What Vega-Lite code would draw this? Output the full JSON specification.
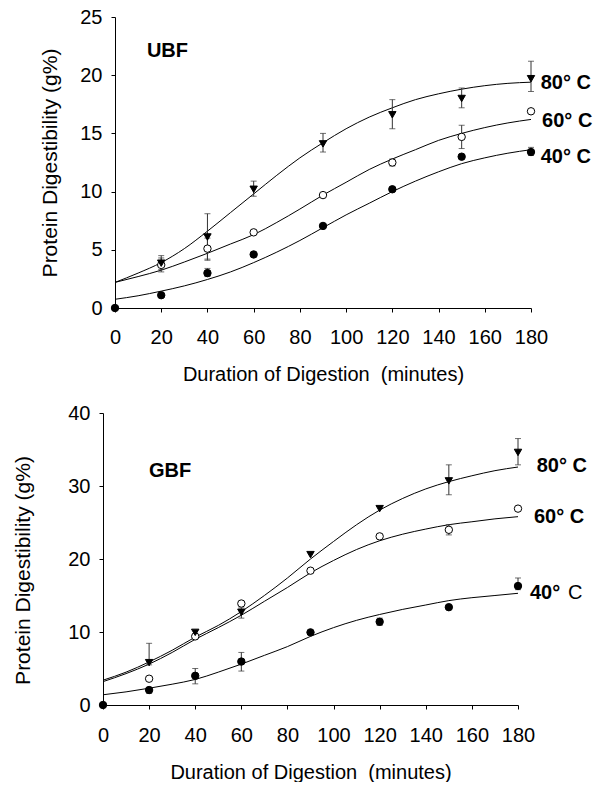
{
  "$schema": "https://vega.github.io/schema/vega-lite/v6.json",
  "padding": {"left": 12, "top": 7, "right": 0, "bottom": 0},
  "config": {
    "view": {"stroke": null},
    "font": "Liberation Sans",
    "axis": {"domainColor": "black", "tickColor": "black", "labelColor": "black", "titleColor": "black", "grid": false, "tickSize": 4, "labelFontSize": 20, "titleFontSize": 20, "titleFontWeight": "normal", "labelFont": "Liberation Sans", "titleFont": "Liberation Sans", "labelOverlap": false, "labelFlush": false}
  },
  "datasets": {
    "ubfPts": [
      {"s": "40", "t": 0, "v": 0}, {"s": "40", "t": 20, "v": 1.1}, {"s": "40", "t": 40, "v": 3.0}, {"s": "40", "t": 60, "v": 4.6}, {"s": "40", "t": 90, "v": 7.05}, {"s": "40", "t": 120, "v": 10.2}, {"s": "40", "t": 150, "v": 13.0}, {"s": "40", "t": 180, "v": 13.4},
      {"s": "60", "t": 20, "v": 3.7}, {"s": "60", "t": 40, "v": 5.1}, {"s": "60", "t": 60, "v": 6.5}, {"s": "60", "t": 90, "v": 9.7}, {"s": "60", "t": 120, "v": 12.5}, {"s": "60", "t": 150, "v": 14.7}, {"s": "60", "t": 180, "v": 16.9},
      {"s": "80", "t": 20, "v": 3.85}, {"s": "80", "t": 40, "v": 6.1}, {"s": "80", "t": 60, "v": 10.2}, {"s": "80", "t": 90, "v": 14.1}, {"s": "80", "t": 120, "v": 16.6}, {"s": "80", "t": 150, "v": 18.0}, {"s": "80", "t": 180, "v": 19.7}
    ],
    "ubfErr": [
      {"s": "40", "t": 40, "lo": 2.7, "hi": 3.4}, {"s": "40", "t": 180, "lo": 13.1, "hi": 13.8},
      {"s": "60", "t": 20, "lo": 3.1, "hi": 4.3}, {"s": "60", "t": 40, "lo": 4.2, "hi": 6.0}, {"s": "60", "t": 120, "lo": 12.2, "hi": 12.8}, {"s": "60", "t": 150, "lo": 13.7, "hi": 15.7},
      {"s": "80", "t": 20, "lo": 3.3, "hi": 4.5}, {"s": "80", "t": 40, "lo": 4.1, "hi": 8.1}, {"s": "80", "t": 60, "lo": 9.6, "hi": 10.9}, {"s": "80", "t": 90, "lo": 13.4, "hi": 15.0}, {"s": "80", "t": 120, "lo": 15.4, "hi": 17.9}, {"s": "80", "t": 150, "lo": 17.2, "hi": 18.9}, {"s": "80", "t": 180, "lo": 18.6, "hi": 21.2}
    ],
    "ubfFit": [
      {"s": "40", "t": 0, "v": 0.75}, {"s": "40", "t": 10, "v": 1.05}, {"s": "40", "t": 20, "v": 1.45}, {"s": "40", "t": 30, "v": 1.9}, {"s": "40", "t": 40, "v": 2.45}, {"s": "40", "t": 50, "v": 3.1}, {"s": "40", "t": 60, "v": 3.9}, {"s": "40", "t": 70, "v": 4.8}, {"s": "40", "t": 80, "v": 5.8}, {"s": "40", "t": 90, "v": 6.9}, {"s": "40", "t": 100, "v": 8.0}, {"s": "40", "t": 110, "v": 9.0}, {"s": "40", "t": 120, "v": 10.0}, {"s": "40", "t": 130, "v": 10.9}, {"s": "40", "t": 140, "v": 11.7}, {"s": "40", "t": 150, "v": 12.4}, {"s": "40", "t": 160, "v": 12.9}, {"s": "40", "t": 170, "v": 13.3}, {"s": "40", "t": 180, "v": 13.6},
      {"s": "60", "t": 0, "v": 2.2}, {"s": "60", "t": 10, "v": 2.7}, {"s": "60", "t": 20, "v": 3.25}, {"s": "60", "t": 30, "v": 3.95}, {"s": "60", "t": 40, "v": 4.7}, {"s": "60", "t": 50, "v": 5.5}, {"s": "60", "t": 60, "v": 6.3}, {"s": "60", "t": 70, "v": 7.35}, {"s": "60", "t": 80, "v": 8.5}, {"s": "60", "t": 90, "v": 9.7}, {"s": "60", "t": 100, "v": 10.8}, {"s": "60", "t": 110, "v": 11.9}, {"s": "60", "t": 120, "v": 12.8}, {"s": "60", "t": 130, "v": 13.6}, {"s": "60", "t": 140, "v": 14.4}, {"s": "60", "t": 150, "v": 15.0}, {"s": "60", "t": 160, "v": 15.5}, {"s": "60", "t": 170, "v": 15.9}, {"s": "60", "t": 180, "v": 16.2},
      {"s": "80", "t": 0, "v": 2.2}, {"s": "80", "t": 10, "v": 3.0}, {"s": "80", "t": 20, "v": 3.9}, {"s": "80", "t": 30, "v": 5.1}, {"s": "80", "t": 40, "v": 6.6}, {"s": "80", "t": 50, "v": 8.2}, {"s": "80", "t": 60, "v": 9.8}, {"s": "80", "t": 70, "v": 11.4}, {"s": "80", "t": 80, "v": 12.9}, {"s": "80", "t": 90, "v": 14.2}, {"s": "80", "t": 100, "v": 15.4}, {"s": "80", "t": 110, "v": 16.4}, {"s": "80", "t": 120, "v": 17.2}, {"s": "80", "t": 130, "v": 17.9}, {"s": "80", "t": 140, "v": 18.4}, {"s": "80", "t": 150, "v": 18.8}, {"s": "80", "t": 160, "v": 19.1}, {"s": "80", "t": 170, "v": 19.3}, {"s": "80", "t": 180, "v": 19.4}
    ],
    "ubfLab": [
      {"label": "UBF", "t": 13.8, "v": 22.1},
      {"label": "80° C", "t": 184.2, "v": 19.3},
      {"label": "60° C", "t": 184.8, "v": 16.1},
      {"label": "40° C", "t": 184.2, "v": 12.95}
    ],
    "gbfPts": [
      {"s": "40", "t": 0, "v": 0}, {"s": "40", "t": 20, "v": 2.05}, {"s": "40", "t": 40, "v": 4.0}, {"s": "40", "t": 60, "v": 5.95}, {"s": "40", "t": 90, "v": 9.95}, {"s": "40", "t": 120, "v": 11.4}, {"s": "40", "t": 150, "v": 13.4}, {"s": "40", "t": 180, "v": 16.3},
      {"s": "60", "t": 20, "v": 3.6}, {"s": "60", "t": 40, "v": 9.4}, {"s": "60", "t": 60, "v": 13.9}, {"s": "60", "t": 90, "v": 18.4}, {"s": "60", "t": 120, "v": 23.1}, {"s": "60", "t": 150, "v": 24.0}, {"s": "60", "t": 180, "v": 26.9},
      {"s": "80", "t": 20, "v": 5.8}, {"s": "80", "t": 40, "v": 9.95}, {"s": "80", "t": 60, "v": 12.7}, {"s": "80", "t": 90, "v": 20.6}, {"s": "80", "t": 120, "v": 26.9}, {"s": "80", "t": 150, "v": 30.7}, {"s": "80", "t": 180, "v": 34.6}
    ],
    "gbfErr": [
      {"s": "40", "t": 20, "lo": 1.6, "hi": 2.4}, {"s": "40", "t": 40, "lo": 2.9, "hi": 5.0}, {"s": "40", "t": 60, "lo": 4.65, "hi": 7.2}, {"s": "40", "t": 120, "lo": 10.9, "hi": 11.9}, {"s": "40", "t": 180, "lo": 15.8, "hi": 17.4},
      {"s": "60", "t": 150, "lo": 23.3, "hi": 24.7},
      {"s": "80", "t": 20, "lo": 5.5, "hi": 8.45}, {"s": "80", "t": 60, "lo": 11.9, "hi": 13.3}, {"s": "80", "t": 150, "lo": 28.8, "hi": 32.9}, {"s": "80", "t": 180, "lo": 32.9, "hi": 36.5}
    ],
    "gbfFit": [
      {"s": "40", "t": 0, "v": 1.4}, {"s": "40", "t": 10, "v": 1.8}, {"s": "40", "t": 20, "v": 2.3}, {"s": "40", "t": 30, "v": 2.85}, {"s": "40", "t": 40, "v": 3.5}, {"s": "40", "t": 50, "v": 4.5}, {"s": "40", "t": 60, "v": 5.6}, {"s": "40", "t": 70, "v": 6.8}, {"s": "40", "t": 80, "v": 8.0}, {"s": "40", "t": 90, "v": 9.4}, {"s": "40", "t": 100, "v": 10.6}, {"s": "40", "t": 110, "v": 11.6}, {"s": "40", "t": 120, "v": 12.4}, {"s": "40", "t": 130, "v": 13.1}, {"s": "40", "t": 140, "v": 13.7}, {"s": "40", "t": 150, "v": 14.3}, {"s": "40", "t": 160, "v": 14.7}, {"s": "40", "t": 170, "v": 15.0}, {"s": "40", "t": 180, "v": 15.3},
      {"s": "60", "t": 0, "v": 3.2}, {"s": "60", "t": 10, "v": 4.3}, {"s": "60", "t": 20, "v": 5.6}, {"s": "60", "t": 30, "v": 7.2}, {"s": "60", "t": 40, "v": 9.0}, {"s": "60", "t": 50, "v": 10.6}, {"s": "60", "t": 60, "v": 12.3}, {"s": "60", "t": 70, "v": 14.2}, {"s": "60", "t": 80, "v": 16.1}, {"s": "60", "t": 90, "v": 18.1}, {"s": "60", "t": 100, "v": 19.8}, {"s": "60", "t": 110, "v": 21.3}, {"s": "60", "t": 120, "v": 22.5}, {"s": "60", "t": 130, "v": 23.4}, {"s": "60", "t": 140, "v": 24.1}, {"s": "60", "t": 150, "v": 24.7}, {"s": "60", "t": 160, "v": 25.1}, {"s": "60", "t": 170, "v": 25.5}, {"s": "60", "t": 180, "v": 25.8},
      {"s": "80", "t": 0, "v": 3.4}, {"s": "80", "t": 10, "v": 4.5}, {"s": "80", "t": 20, "v": 5.9}, {"s": "80", "t": 30, "v": 7.5}, {"s": "80", "t": 40, "v": 9.3}, {"s": "80", "t": 50, "v": 10.9}, {"s": "80", "t": 60, "v": 12.8}, {"s": "80", "t": 70, "v": 15.0}, {"s": "80", "t": 80, "v": 17.4}, {"s": "80", "t": 90, "v": 20.0}, {"s": "80", "t": 100, "v": 22.4}, {"s": "80", "t": 110, "v": 24.7}, {"s": "80", "t": 120, "v": 26.7}, {"s": "80", "t": 130, "v": 28.3}, {"s": "80", "t": 140, "v": 29.6}, {"s": "80", "t": 150, "v": 30.6}, {"s": "80", "t": 160, "v": 31.4}, {"s": "80", "t": 170, "v": 32.1}, {"s": "80", "t": 180, "v": 32.6}
    ],
    "gbfLab": [
      {"label": "GBF", "t": 19.9, "v": 32.0},
      {"label": "80° C", "t": 188.1, "v": 32.7},
      {"label": "60° C", "t": 186.9, "v": 25.8},
      {"label": "40°", "t": 185.2, "v": 15.4}
    ],
    "gbfLabPlain": [
      {"label": "C", "t": 201.7, "v": 15.4}
    ]
  },
  "spacing": 19,
  "vconcat": [
    {
      "width": 428,
      "height": 291,
      "layer": [
        {
          "data": {"name": "ubfFit"},
          "mark": {"type": "line", "interpolate": "monotone", "color": "black", "strokeWidth": 1},
          "encoding": {
            "x": {"field": "t", "type": "quantitative", "scale": {"domain": [0, 180], "range": [12, 428], "nice": false, "zero": false},
              "axis": {"values": [0, 20, 40, 60, 80, 100, 120, 140, 160, 180], "labelPadding": 15, "title": "Duration of Digestion\u00a0 (minutes)", "titleBaseline": "alphabetic", "titleY": 72}},
            "y": {"field": "v", "type": "quantitative", "scale": {"domain": [0, 25], "nice": false}, "title": "Protein Digestibility (g%)",
              "axis": {"values": [0, 5, 10, 15, 20, 25], "labelPadding": 9, "offset": -12, "titleFontSize": 21, "titleBaseline": "alphabetic", "titleX": -59}},
            "detail": {"field": "s"}
          }
        },
        {
          "data": {"name": "ubfErr"},
          "mark": {"type": "errorbar", "color": "#333", "ticks": {"size": 6}},
          "encoding": {
            "x": {"field": "t", "type": "quantitative", "title": "Duration of Digestion\u00a0 (minutes)"},
            "y": {"field": "lo", "type": "quantitative", "title": "Protein Digestibility (g%)"},
            "y2": {"field": "hi"}
          }
        },
        {
          "data": {"name": "ubfPts"},
          "mark": {"type": "point", "filled": true, "stroke": "black", "strokeWidth": 1, "size": 55, "opacity": 1},
          "encoding": {
            "x": {"field": "t", "type": "quantitative", "title": "Duration of Digestion\u00a0 (minutes)"},
            "y": {"field": "v", "type": "quantitative", "title": "Protein Digestibility (g%)"},
            "shape": {"field": "s", "type": "nominal", "scale": {"domain": ["40", "60", "80"], "range": ["circle", "circle", "triangle-down"]}, "legend": null},
            "fill": {"field": "s", "type": "nominal", "scale": {"domain": ["40", "60", "80"], "range": ["black", "white", "black"]}, "legend": null}
          }
        },
        {
          "data": {"name": "ubfLab"},
          "mark": {"type": "text", "align": "left", "baseline": "middle", "fontWeight": "bold", "fontSize": 20, "color": "black"},
          "encoding": {
            "x": {"field": "t", "type": "quantitative", "title": "Duration of Digestion\u00a0 (minutes)"},
            "y": {"field": "v", "type": "quantitative", "title": "Protein Digestibility (g%)"},
            "text": {"field": "label"}
          }
        }
      ]
    },
    {
      "width": 415,
      "height": 292,
      "layer": [
        {
          "data": {"name": "gbfFit"},
          "mark": {"type": "line", "interpolate": "monotone", "color": "black", "strokeWidth": 1},
          "encoding": {
            "x": {"field": "t", "type": "quantitative", "scale": {"domain": [0, 180], "nice": false, "zero": false}, "title": "Duration of Digestion\u00a0 (minutes)",
              "axis": {"values": [0, 20, 40, 60, 80, 100, 120, 140, 160, 180], "labelPadding": 16, "titleBaseline": "alphabetic", "titleY": 73}},
            "y": {"field": "v", "type": "quantitative", "scale": {"domain": [0, 40], "nice": false}, "title": "Protein Digestibility (g%)",
              "axis": {"values": [0, 10, 20, 30, 40], "labelPadding": 9, "titleFontSize": 21, "titleBaseline": "alphabetic", "titleX": -74, "titleY": 157}},
            "detail": {"field": "s"}
          }
        },
        {
          "data": {"name": "gbfErr"},
          "mark": {"type": "errorbar", "color": "#333", "ticks": {"size": 6}},
          "encoding": {
            "x": {"field": "t", "type": "quantitative", "title": "Duration of Digestion\u00a0 (minutes)"},
            "y": {"field": "lo", "type": "quantitative", "title": "Protein Digestibility (g%)"},
            "y2": {"field": "hi"}
          }
        },
        {
          "data": {"name": "gbfPts"},
          "mark": {"type": "point", "filled": true, "stroke": "black", "strokeWidth": 1, "size": 55, "opacity": 1},
          "encoding": {
            "x": {"field": "t", "type": "quantitative", "title": "Duration of Digestion\u00a0 (minutes)"},
            "y": {"field": "v", "type": "quantitative", "title": "Protein Digestibility (g%)"},
            "shape": {"field": "s", "type": "nominal", "scale": {"domain": ["40", "60", "80"], "range": ["circle", "circle", "triangle-down"]}, "legend": null},
            "fill": {"field": "s", "type": "nominal", "scale": {"domain": ["40", "60", "80"], "range": ["black", "white", "black"]}, "legend": null}
          }
        },
        {
          "data": {"name": "gbfLab"},
          "mark": {"type": "text", "align": "left", "baseline": "middle", "fontWeight": "bold", "fontSize": 20, "color": "black"},
          "encoding": {
            "x": {"field": "t", "type": "quantitative", "title": "Duration of Digestion\u00a0 (minutes)"},
            "y": {"field": "v", "type": "quantitative", "title": "Protein Digestibility (g%)"},
            "text": {"field": "label"}
          }
        },
        {
          "data": {"name": "gbfLabPlain"},
          "mark": {"type": "text", "align": "left", "baseline": "middle", "fontWeight": "normal", "fontSize": 20, "color": "black"},
          "encoding": {
            "x": {"field": "t", "type": "quantitative", "title": "Duration of Digestion\u00a0 (minutes)"},
            "y": {"field": "v", "type": "quantitative", "title": "Protein Digestibility (g%)"},
            "text": {"field": "label"}
          }
        }
      ]
    }
  ]
}
